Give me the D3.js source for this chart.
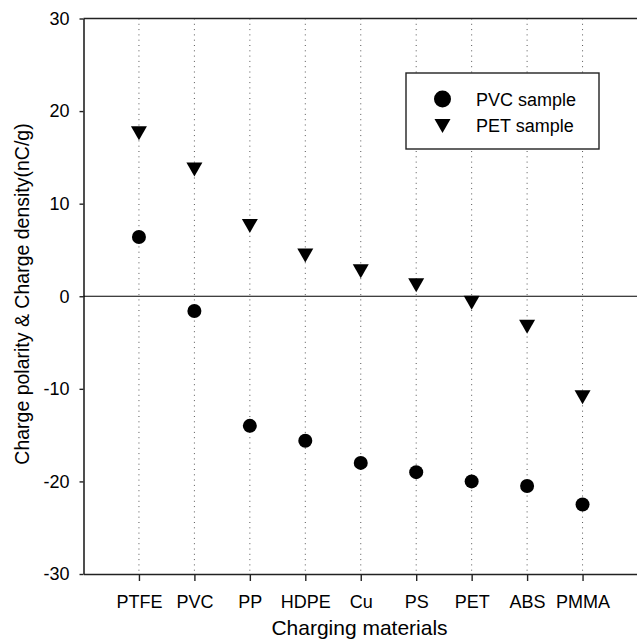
<!DOCTYPE html>
<meta charset="utf-8">
<style>
html, body { margin: 0; background: #fff; overflow: hidden; }
svg { display: block; font-family: Arial, "Liberation Sans", sans-serif; }
</style>
<svg width="637" height="640"></svg>
<script src="https://d3js.org/d3.v7.min.js"></script>
<script>

// charging materials along the x axis
var materials = ["PTFE", "PVC", "PP", "HDPE", "Cu", "PS", "PET", "ABS", "PMMA"];
// charge density (nC/g)
var pvcSample = [6.4, -1.6, -14.0, -15.6, -18.0, -19.0, -20.0, -20.5, -22.5];
var petSample = [17.6, 13.7, 7.6, 4.4, 2.7, 1.2, -0.7, -3.3, -10.9];
var yTicks = [-30, -20, -10, 0, 10, 20, 30];

var svg = d3.select("svg");

var x = d3.scaleLinear().domain([0, materials.length + 1]).range([83.5, 638]);
var y = d3.scaleLinear().domain([-30, 30]).range([574, 18.5]);

// dotted guide lines at each material
svg.append("g")
  .selectAll("line")
  .data(materials)
  .enter().append("line")
    .attr("x1", function(d, i) { return x(i + 1); })
    .attr("x2", function(d, i) { return x(i + 1); })
    .attr("y1", y(30))
    .attr("y2", y(-30))
    .attr("stroke", "#555")
    .attr("stroke-dasharray", "1,4.3");

var yAxis = svg.append("g")
    .attr("transform", "translate(" + x(0) + ",0)")
    .call(d3.axisLeft(y).tickValues(yTicks).tickFormat(function(d) { return String(d); })
      .tickSize(4).tickSizeOuter(0).tickPadding(10));

var xAxis = svg.append("g")
    .attr("transform", "translate(0," + y(-30) + ")")
    .call(d3.axisBottom(x)
      .tickValues(d3.range(1, materials.length + 1))
      .tickFormat(function(d) { return materials[d - 1]; })
      .tickSize(7).tickSizeOuter(0).tickPadding(14));

[yAxis, xAxis].forEach(function(a) {
  a.select(".domain").attr("stroke", "#222").attr("stroke-width", 1.6);
  a.selectAll(".tick line").attr("stroke", "#222").attr("stroke-width", 1.4);
  a.selectAll("text").attr("fill", "#000").style("font-size", "18px").style("font-family", "Arial, 'Liberation Sans', sans-serif");
});

// top frame line and zero line
svg.append("g")
  .selectAll("line")
  .data([30, 0])
  .enter().append("line")
    .attr("x1", x(0))
    .attr("x2", 637)
    .attr("y1", function(d) { return y(d); })
    .attr("y2", function(d) { return y(d); })
    .attr("stroke", function(d) { return d ? "#222" : "#000"; })
    .attr("stroke-width", function(d) { return d ? 1.6 : 1.2; });

// PVC sample - circles
svg.append("g")
  .selectAll("circle")
  .data(pvcSample)
  .enter().append("circle")
    .attr("cx", function(d, i) { return x(i + 1); })
    .attr("cy", function(d) { return y(d); })
    .attr("r", 7)
    .attr("fill", "#000");

// PET sample - down triangles
var tri = "M-8,-7L8,-7L0,7Z";
svg.append("g")
  .selectAll("path")
  .data(petSample)
  .enter().append("path")
    .attr("d", tri)
    .attr("transform", function(d, i) { return "translate(" + x(i + 1) + "," + y(d) + ")"; })
    .attr("fill", "#000");

// legend
var legend = svg.append("g");
legend.append("rect")
    .attr("x", 406).attr("y", 73)
    .attr("width", 193).attr("height", 76)
    .attr("fill", "#fff")
    .attr("stroke", "#222")
    .attr("stroke-width", 1.4);
legend.append("circle")
    .attr("cx", 442.5).attr("cy", 99).attr("r", 8.5).attr("fill", "#000");
legend.append("path")
    .attr("d", tri)
    .attr("transform", "translate(442.5,126)")
    .attr("fill", "#000");
legend.selectAll("text.lab")
  .data(["PVC sample", "PET sample"])
  .enter().append("text")
    .attr("class", "lab")
    .attr("x", 476)
    .attr("y", function(d, i) { return 106 + i * 26; })
    .style("font-size", "18px")
    .text(function(d) { return d; });

// axis titles
svg.append("text")
    .attr("x", 359.5)
    .attr("y", 635)
    .attr("text-anchor", "middle")
    .style("font-size", "21px")
    .text("Charging materials");

svg.append("text")
    .attr("transform", "translate(29,294) rotate(-90)")
    .attr("text-anchor", "middle")
    .style("font-size", "19.5px")
    .text("Charge polarity & Charge density(nC/g)");

</script>
